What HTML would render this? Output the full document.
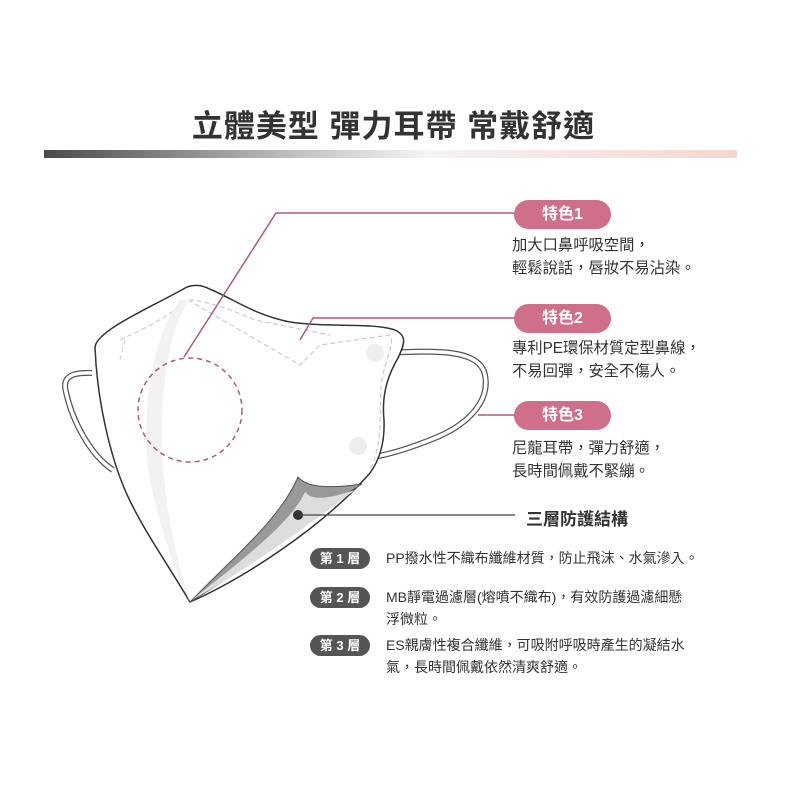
<!DOCTYPE html>
<html><head><meta charset="utf-8"><style>
*{margin:0;padding:0}
body{width:787px;height:787px;background:#fff;position:relative;overflow:hidden;font-family:"Liberation Sans","Noto Sans CJK TC",sans-serif;color:#3a3a3a}
.t{position:absolute;white-space:nowrap}
.title{left:0;width:787px;text-align:center;top:101px;font-size:31px;font-weight:bold;color:#333;letter-spacing:1px}
.bar{position:absolute;left:44px;top:150px;width:693px;height:8px;background:linear-gradient(90deg,#4a4a4a,#bdbdbd 35%,#f4f4f4 55%,#f6d6d0)}
.pill{position:absolute;left:514px;width:97px;height:29px;border-radius:15px;background:#cf6f89;color:#fff;font-weight:bold;font-size:16px;text-align:center;line-height:29px}
.d{font-size:15.3px;line-height:23px;color:#333;left:512px}
.lp{position:absolute;left:310px;width:60px;height:21px;border-radius:11px;background:#555;color:#fff;font-size:13px;font-weight:bold;text-align:center;line-height:21px}
.ld{font-size:14px;line-height:22px;left:386px;color:#333}
</style></head><body>
<div class="t title">立體美型 彈力耳帶 常戴舒適</div>
<div class="bar"></div>
<svg width="787" height="787" style="position:absolute;left:0;top:0">
<path d="M92,373 C70,372 62,378 66,392 C72,420 90,455 113,470" fill="none" stroke="#555" stroke-width="6"/>
<path d="M92,373 C70,372 62,378 66,392 C72,420 90,455 113,470" fill="none" stroke="#fff" stroke-width="3.5"/>
<path d="M387,353 C440,350 480,350 485,375 C490,400 470,425 430,440 C400,452 370,460 357,457" fill="none" stroke="#555" stroke-width="6"/>
<path d="M387,353 C440,350 480,350 485,375 C490,400 470,425 430,440 C400,452 370,460 357,457" fill="none" stroke="#fff" stroke-width="3.5"/>
<path d="M95,347 C97,330 150,308 187,287 C198,283 205,287 212,290 C235,300 255,315 290,322 C330,328 370,322 395,330 C408,336 404,345 398,358 C385,380 382,400 384,420 C385,445 378,462 370,473 C320,530 240,580 190,602 C165,560 140,525 125,490 C110,455 97,400 95,347 Z" fill="#fff" stroke="#333" stroke-width="1.5"/>
<path d="M120,340 C140,330 165,320 187,300 C200,300 220,305 255,320 L330,335" fill="none" stroke="#ccc" stroke-width="1.2" stroke-dasharray="5,3"/>
<path d="M120,360 L125,340" fill="none" stroke="#ccc" stroke-dasharray="5,3"/>
<path d="M188,300 L300,365 L320,345 L390,335 C395,345 385,360 382,380 C378,400 385,440 370,470" fill="none" stroke="#ccc" stroke-width="1.2" stroke-dasharray="5,3"/>
<path d="M180,300 C150,340 140,420 150,480 C160,530 175,570 190,602 C170,540 155,460 165,380 C170,340 178,315 190,300 Z" fill="#f2f2f2"/>
<circle cx="375" cy="353" r="9" fill="#eee"/>
<circle cx="358" cy="446" r="9" fill="#eee"/>
<path d="M298,477 C305,485 320,490 362,484 C320,510 260,560 190,602 C230,560 280,520 298,477 Z" fill="#999" stroke="#555" stroke-width="1"/>
<path d="M305,492 C312,500 325,500 355,490 C315,520 255,565 192,600 C235,565 290,525 305,492 Z" fill="#ddd"/>
<circle cx="298" cy="515" r="5" fill="#333"/>
<circle cx="190" cy="410" r="52" fill="none" stroke="#b05a78" stroke-width="1.5" stroke-dasharray="5,4"/>
<polyline points="184,357 276,213 515,213" fill="none" stroke="#b05a78" stroke-width="1.5"/>
<polyline points="300,340 313,318 515,318" fill="none" stroke="#b05a78" stroke-width="1.5"/>
<line x1="478" y1="415" x2="515" y2="415" stroke="#b05a78" stroke-width="1.5"/>
<line x1="300" y1="515" x2="515" y2="515" stroke="#444" stroke-width="1.2"/>
</svg>
<div class="pill" style="top:200px">特色1</div>
<div class="t d" style="top:234px">加大口鼻呼吸空間，<br>輕鬆說話，唇妝不易沾染。</div>
<div class="pill" style="top:304px">特色2</div>
<div class="t d" style="top:337px">專利PE環保材質定型鼻線，<br>不易回彈，安全不傷人。</div>
<div class="pill" style="top:401px">特色3</div>
<div class="t d" style="top:437px">尼龍耳帶，彈力舒適，<br>長時間佩戴不緊繃。</div>
<div class="t" style="left:526px;top:505px;font-size:17px;font-weight:bold;color:#333">三層防護結構</div>
<div class="lp" style="top:548px">第 1 層</div>
<div class="t ld" style="top:547px">PP撥水性不織布纖維材質，防止飛沫、水氣滲入。</div>
<div class="lp" style="top:587px">第 2 層</div>
<div class="t ld" style="top:586px">MB靜電過濾層(熔噴不織布)，有效防護過濾細懸<br>浮微粒。</div>
<div class="lp" style="top:635px">第 3 層</div>
<div class="t ld" style="top:634px">ES親膚性複合纖維，可吸附呼吸時產生的凝結水<br>氣，長時間佩戴依然清爽舒適。</div>
</body></html>
